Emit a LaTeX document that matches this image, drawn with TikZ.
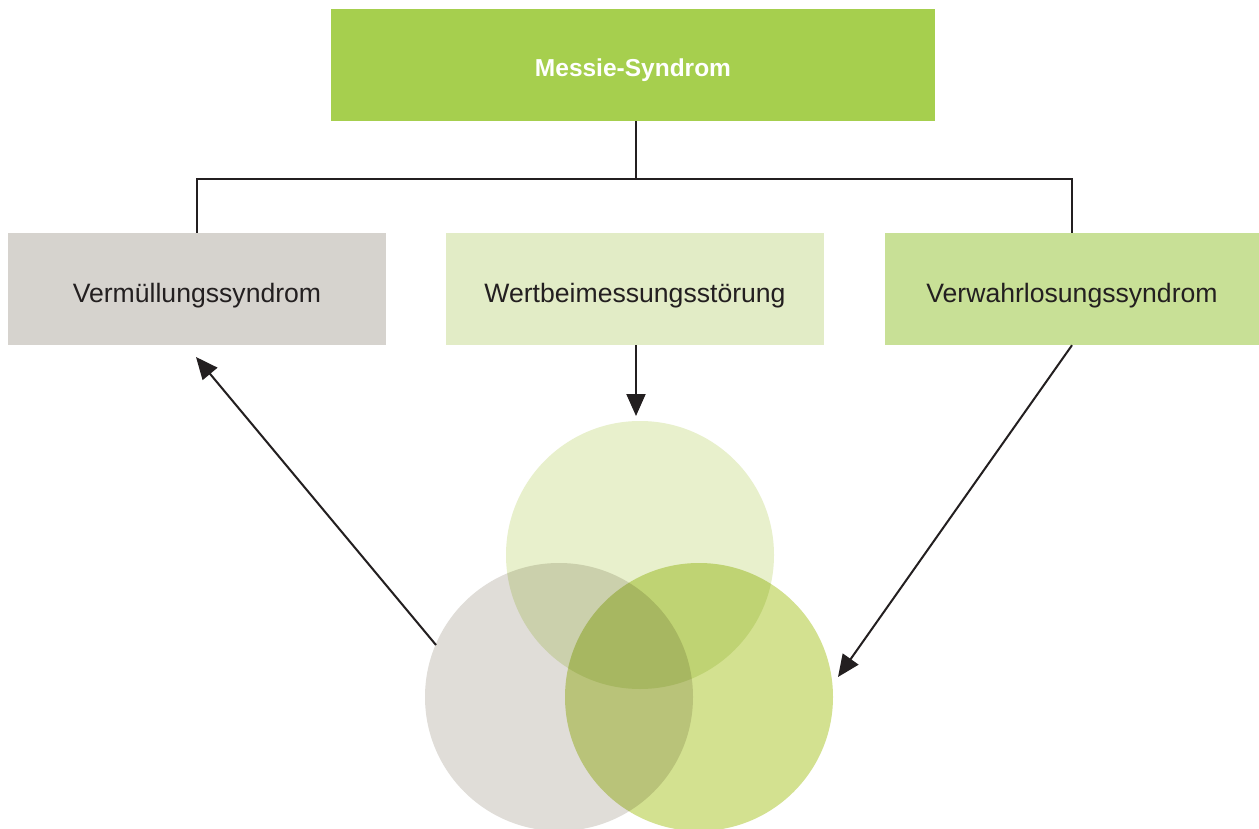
\documentclass[tikz,border=0pt]{standalone}
\usepackage{fontspec}
\setmainfont{Liberation Sans}
\usetikzlibrary{arrows.meta}
\definecolor{topgreen}{HTML}{A6CF4E}
\definecolor{boxgray}{HTML}{D6D3CE}
\definecolor{boxlight}{HTML}{E2ECC6}
\definecolor{boxmid}{HTML}{C8E096}
\definecolor{circgray}{HTML}{E0DDD8}
\definecolor{circlight}{HTML}{E8F0CC}
\definecolor{circgreen}{HTML}{D3E190}
\definecolor{ink}{HTML}{231F20}
\tikzset{
  box/.style={rectangle, inner sep=0pt, minimum height=112pt, text height=26pt, text depth=0pt, font=\fontsize{26.6}{30}\selectfont, text=ink},
  venn/.style={circle, inner sep=0pt, minimum size=268pt, draw=none},
  conn/.style={draw=ink, line width=2pt},
  arr/.style={conn, -{Triangle[length=22pt,width=19pt]}}
}
\begin{document}
\begin{tikzpicture}[x=1pt,y=-1pt]
\useasboundingbox (0,0) rectangle (1259,829);
\clip (0,0) rectangle (1259,829);
\fill[white] (0,0) rectangle (1259,829);
% circles
\begin{scope}[blend group=multiply]
\node[venn, fill=circlight] (ct) at (640,555) {};
\node[venn, fill=circgray] (cl) at (559,697) {};
\node[venn, fill=circgreen] (cr) at (699,697) {};
\end{scope}
% boxes
\node[box, fill=topgreen, minimum width=604pt, text=white, text height=24pt, font=\fontsize{24.5}{28}\selectfont\bfseries] (top) at (633,65) {Messie-Syndrom};
\node[box, fill=boxgray, minimum width=378pt] (left) at (197,289) {Vermüllungssyndrom};
\node[box, fill=boxlight, minimum width=378pt] (mid) at (635,289) {Wertbeimessungsstörung};
\node[box, fill=boxmid, minimum width=374pt] (right) at (1072,289) {Verwahrlosungssyndrom};
% tree connectors
\coordinate (j) at (636,179);
\draw[conn] (top.south -| j) -- (j);
\draw[conn] (left.north) |- (j) -| (right.north);
% arrows
\coordinate (lstart) at (436,645);
\coordinate (ltip) at (196,357);
\coordinate (mtip) at (636,416);
\coordinate (rtip) at (838,677);
\draw[arr] (lstart) -- (ltip);
\draw[arr] (mid.south -| mtip) -- (mtip);
\draw[arr] (right.south) -- (rtip);
\end{tikzpicture}
\end{document}
